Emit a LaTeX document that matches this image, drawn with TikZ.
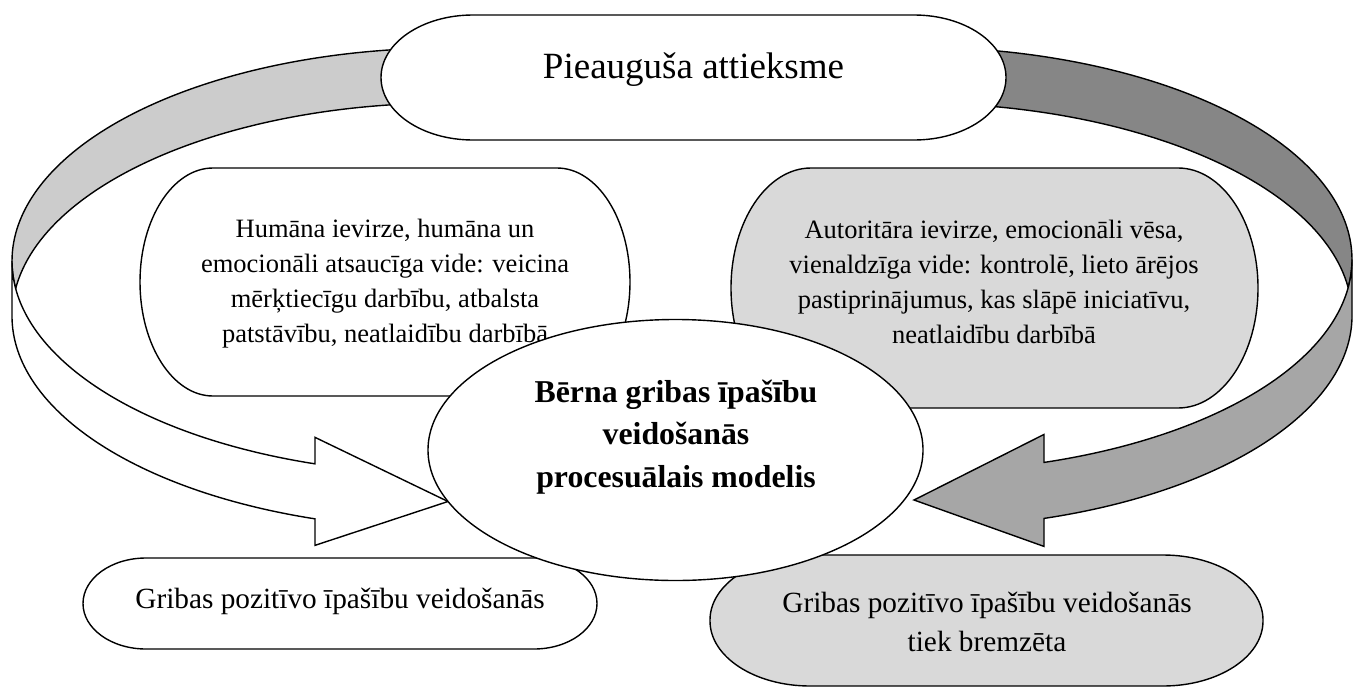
\documentclass[tikz,border=0pt]{standalone}
\usepackage{fontspec}
\setmainfont{Liberation Serif}
\usetikzlibrary{shapes.geometric}
\definecolor{backL}{HTML}{CCCCCC}
\definecolor{backR}{HTML}{868686}
\definecolor{frontR}{HTML}{A6A6A6}
\definecolor{boxgray}{HTML}{D9D9D9}
% rounded box with elliptical corners: #1 options, #2 x1, #3 y1, #4 x2, #5 y2, #6 rx, #7 ry
\newcommand\rrbox[7]{%
  \path[#1] ({#2+#6},#3) -- ({#4-#6},#3)
    arc[start angle=-90,end angle=0,x radius=#6,y radius=#7] -- (#4,{#5-#7})
    arc[start angle=0,end angle=90,x radius=#6,y radius=#7] -- ({#2+#6},#5)
    arc[start angle=90,end angle=180,x radius=#6,y radius=#7] -- (#2,{#3+#7})
    arc[start angle=180,end angle=270,x radius=#6,y radius=#7] -- cycle;}
% curved arrow: #1 front fill, #2 back fill, #3 l, #4 r, #5 t, #6 hR, #7 th, #8 aw, #9 ah
\newcommand\bigcurvearrow[9]{%
  \pgfmathsetmacro\cwW{#4-#3}%
  \pgfmathsetmacro\cwA{#5+#6}%
  \pgfmathsetmacro\cwB{#5+#6+#7}%
  \pgfmathsetmacro\cwPhi{acos(#9/\cwW)}%
  \pgfmathsetmacro\cwDy{#6*sin(\cwPhi)}%
  \pgfmathsetmacro\cwX{#4-#9}%
  \pgfmathsetmacro\cwDh{(#8-#7)/2}%
  \pgfmathsetmacro\cwYa{\cwA+\cwDy-\cwDh}%
  \pgfmathsetmacro\cwYb{\cwB+\cwDy+\cwDh}%
  \pgfmathsetmacro\cwYc{\cwB+\cwDy}%
  \pgfmathsetmacro\cwTip{#5+2*(#6+(#7+#8)/4)-#8/2}%
  \pgfmathsetmacro\cwPsi{asin(#7/(2*#6))}%
  \filldraw[fill=#2] (#4,{#5+#7})
    arc[start angle=270,end angle={180+\cwPsi},x radius=\cwW,y radius=#6]
    arc[start angle={180-\cwPsi},end angle=270,x radius=\cwW,y radius=#6] -- cycle;
  \filldraw[fill=#1] (#3,\cwA)
    arc[start angle=180,end angle={180-\cwPhi},x radius=\cwW,y radius=#6]
    -- (\cwX,\cwYa) -- (#4,\cwTip) -- (\cwX,\cwYb) -- (\cwX,\cwYc)
    arc[start angle={180-\cwPhi},end angle=180,x radius=\cwW,y radius=#6] -- cycle;}
\newcommand\mlines[1]{\begin{tabular}{@{}c@{}}#1\end{tabular}}
\begin{document}
\begin{tikzpicture}[x=1pt,y=-1pt,line width=1.4pt,
  boxline/.style={draw=black},
  bodytext/.style={inner sep=0pt,font=\fontsize{26.5}{35}\selectfont},
  bottomtext/.style={inner sep=0pt,font=\fontsize{29.3}{39}\selectfont},
  titletext/.style={inner sep=0pt,font=\fontsize{37}{44}\selectfont},
  boldtext/.style={inner sep=0pt,font=\fontsize{31.8}{42.5}\selectfont\bfseries}]
\useasboundingbox (0,0) rectangle (1354,688);
\fill[white] (0,0) rectangle (1354,688);
% curved arrows
\begin{scope}
  \bigcurvearrow{white}{backL}{12}{448}{48}{213}{55}{108}{133}
\end{scope}
\begin{scope}[xshift=1364pt,xscale=-1]
  \bigcurvearrow{frontR}{backR}{12}{450}{47}{212.5}{56}{112}{130}
\end{scope}
% top node
\rrbox{boxline,fill=white}{381}{15}{1006}{140}{92}{62.5}
\node[titletext,anchor=base] (title) at (693.5,78) {Pieauguša attieksme};
% left box
\rrbox{boxline,fill=white}{140}{168}{630}{396}{73}{114}
\node[bodytext] (humane) at (385,282.5) {\mlines{Humāna ievirze, humāna un\\emocionāli atsaucīga vide: veicina\\mērķtiecīgu darbību, atbalsta\\patstāvību, neatlaidību darbībā}};
% right box
\rrbox{boxline,fill=boxgray}{731}{168}{1258}{408}{80}{120}
\node[bodytext] (autho) at (994,283.5) {\mlines{Autoritāra ievirze, emocionāli vēsa,\\vienaldzīga vide: kontrolē, lieto ārējos\\pastiprinājumus, kas slāpē iniciatīvu,\\neatlaidību darbībā}};
% bottom left box
\rrbox{boxline,fill=white}{83}{558}{597}{649}{63}{45.5}
\node[bottomtext,anchor=base] (pos) at (340,608) {Gribas pozitīvo īpašību veidošanās};
% bottom right box
\rrbox{boxline,fill=boxgray}{710}{555}{1263}{686}{100}{65}
\node[bottomtext] (brake) at (987,623.7) {\mlines{Gribas pozitīvo īpašību veidošanās\\tiek bremzēta}};
% centre ellipse
\node[draw=black,fill=white,ellipse,inner sep=0pt,minimum width=495pt,minimum height=261pt] (model) at (675.5,450) {};
\node[boldtext] (modeltext) at (676,436) {\mlines{Bērna gribas īpašību\\veidošanās\\procesuālais modelis}};
\end{tikzpicture}
\end{document}
